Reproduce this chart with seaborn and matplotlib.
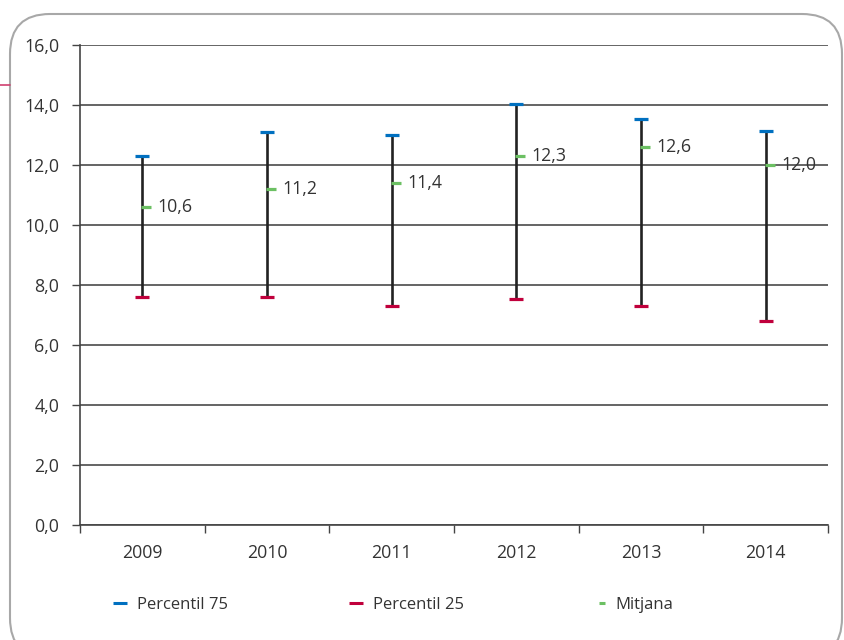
import matplotlib
matplotlib.use("Agg")
import matplotlib.pyplot as plt
import matplotlib.transforms as mtransforms
from matplotlib.patches import FancyBboxPatch
from matplotlib.lines import Line2D
from matplotlib.ticker import FuncFormatter, FixedLocator
import seaborn as sns
import pandas as pd

years = ["2009", "2010", "2011", "2012", "2013", "2014"]
p75 = [12.3, 13.1, 13.0, 14.05, 13.55, 13.15]
p25 = [7.6, 7.6, 7.3, 7.55, 7.3, 6.8]
mean = [10.6, 11.2, 11.4, 12.3, 12.6, 12.0]
mean_labels = ["10,6", "11,2", "11,4", "12,3", "12,6", "12,0"]
legend_labels = ["Percentil 75", "Percentil 25", "Mitjana"]

C_BLUE = "#0070c0"
C_RED = "#c0003c"
C_GREEN = "#6cc063"
TXT = "#333333"
NUM_FS = 12.8

sns.set_style("white")
plt.rcParams["font.family"] = ["Open Sans", "DejaVu Sans"]

W, H = 844, 640
fig = plt.figure(figsize=(W / 100, H / 100), dpi=100)
ax = fig.add_axes([80 / W, (H - 525) / H, 748 / W, 480 / H])

df = pd.DataFrame({"x": range(len(years)), "year": years,
                   "p75": p75, "p25": p25, "mean": mean})

# whiskers
ax.vlines(df["x"], df["p25"], df["p75"], color="#222222", lw=1.9, zorder=3)

cap_ms = 90
sns.scatterplot(data=df, x="x", y="p75", marker="_", s=cap_ms, color=C_BLUE,
                linewidth=2.3, ax=ax, zorder=4, legend=False)
sns.scatterplot(data=df, x="x", y="p25", marker="_", s=cap_ms, color=C_RED,
                linewidth=2.3, ax=ax, zorder=4, legend=False)
off = mtransforms.ScaledTranslation(4 / 100, 0, fig.dpi_scale_trans)
g = sns.scatterplot(data=df, x="x", y="mean", marker="_", s=50, color=C_GREEN,
                    linewidth=2.3, ax=ax, zorder=5, legend=False)
g.collections[-1].set_transform(g.collections[-1].get_transform() + off)

for xi, yi, lab in zip(df["x"], df["mean"], mean_labels):
    ax.annotate(lab, (xi, yi), xytext=(11, 0), textcoords="offset points",
                ha="left", va="center", fontsize=NUM_FS, color=TXT, zorder=6)

ax.set_xlim(-0.5, len(years) - 0.5)
ax.set_ylim(0, 16)
ax.set_yticks([0, 2, 4, 6, 8, 10, 12, 14, 16])
ax.yaxis.set_major_formatter(FuncFormatter(lambda v, p: f"{v:.1f}".replace(".", ",")))
ax.grid(axis="y", color="#4a4a4a", lw=1.2)
ax.set_axisbelow(True)

ax.xaxis.set_major_locator(FixedLocator([i - 0.5 for i in range(len(years) + 1)]))
ax.xaxis.set_major_formatter(FuncFormatter(lambda v, p: ""))
ax.xaxis.set_minor_locator(FixedLocator(list(range(len(years)))))
ax.set_xticklabels(years, minor=True)
ax.tick_params(axis="x", which="major", direction="out", length=6, width=1,
               color="#444444", bottom=True)
ax.tick_params(axis="x", which="minor", length=0, pad=14, labelsize=NUM_FS,
               labelcolor=TXT, bottom=True)
ax.tick_params(axis="y", direction="out", length=6, width=1, color="#444444",
               pad=9, labelsize=NUM_FS, labelcolor=TXT, left=True)
ax.set_xlabel("")
ax.set_ylabel("")

for s in ["top", "right"]:
    ax.spines[s].set_visible(False)
for s in ["left", "bottom"]:
    ax.spines[s].set_color("#444444")
    ax.spines[s].set_linewidth(1.2)

# legend: one entry per block, placed at the positions of the reference
leg_colors = [C_BLUE, C_RED, C_GREEN]
leg_x = [113, 349, 598]
leg_ms = [9.9, 9.9, 5.0]
leg_hl = [0.82, 0.82, 0.42]
for col, lx, ms, hl, lab in zip(leg_colors, leg_x, leg_ms, leg_hl, legend_labels):
    h = Line2D([], [], marker="_", ls="", color=col, markersize=ms, markeredgewidth=2.2)
    lg = fig.legend([h], [lab], loc="center left",
                    bbox_to_anchor=(lx / W, (H - 605) / H), frameon=False,
                    fontsize=12, labelcolor=TXT, handlelength=hl,
                    handletextpad=0.62, borderpad=0, borderaxespad=0)

border = FancyBboxPatch((10, -18), 832, 644,
                        boxstyle="round,pad=0,rounding_size=40",
                        transform=mtransforms.IdentityTransform(),
                        fill=False, ec="#a8a8a8", lw=1.5)
fig.add_artist(border)
fig.add_artist(Line2D([0, 10], [H - 85, H - 85], color="#d04070", lw=1.2,
                      transform=mtransforms.IdentityTransform()))

fig.savefig("out.png", dpi=100)
